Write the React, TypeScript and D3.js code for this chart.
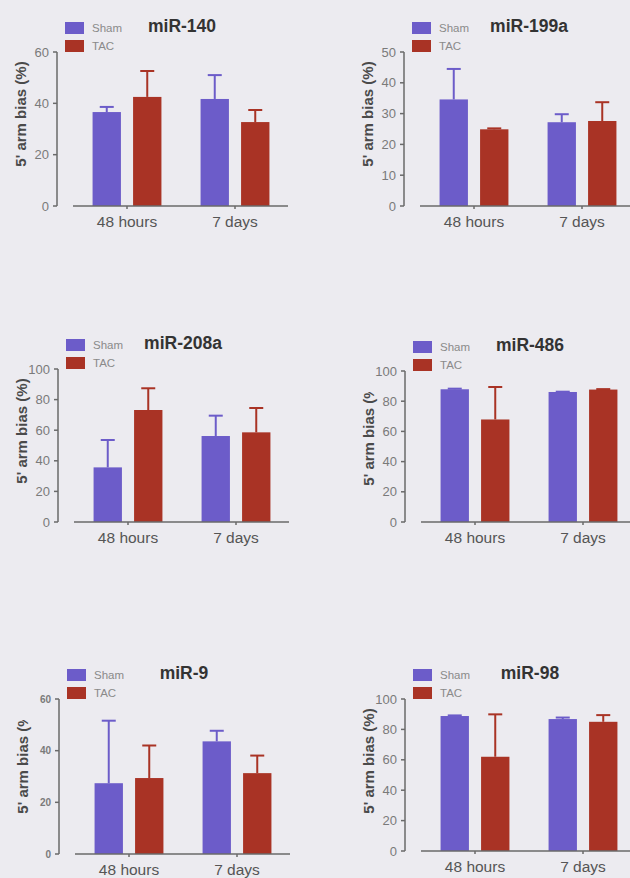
import * as d3 from 'd3';
import React from 'react';

// data
const categories = ['48 hours', '7 days'];
const groups = ['Sham', 'TAC'];
const titles = ['miR-140', 'miR-199a', 'miR-208a', 'miR-486', 'miR-9', 'miR-98'];
const yMaxes = [60, 50, 100, 100, 60, 100];
const yTickSteps = [20, 10, 20, 20, 20, 20];
const shamMeans = [[36.6, 41.7], [34.6, 27.2], [35.7, 56.2], [87.9, 86.1], [27.4, 43.6], [88.8, 86.8]];
const shamErr = [[2.0, 9.3], [9.9, 2.6], [17.9, 13.3], [0.4, 0.2], [24.2, 4.1], [0.4, 1.0]];
const tacMeans = [[42.5, 32.7], [24.9, 27.6], [73.2, 58.6], [67.9, 87.7], [29.4, 31.3], [62.0, 85.0]];
const tacErr = [[10.1, 4.7], [0.3, 6.1], [14.2, 15.9], [21.5, 0.3], [12.6, 6.8], [27.9, 4.4]];
const yLabel = "5' arm bias (%)";

// layout of the six panels
const axisXs = [57, 404, 58, 405, 59, 405];
const tops = [52, 52, 369, 371, 699, 699];
const bottoms = [206, 206, 522, 522, 854, 851];
const clippedLabel = [false, false, false, true, true, false];

const colors = { Sham: '#6c5cc9', TAC: '#a93325' };
const font = 'Liberation Sans, Arial, sans-serif';

const Panel = ({ i }) => {
    const ax = axisXs[i];
    const top = tops[i];
    const bottom = bottoms[i];
    const small = i === 4;

    const y = d3.scaleLinear().domain([0, yMaxes[i]]).range([bottom, top]);
    const x = d3.scaleBand().domain(categories).range([ax + 16, ax + 232])
        .paddingInner(0.25).paddingOuter(0.125);
    const xs = d3.scaleBand().domain(groups).range([0, x.bandwidth()])
        .paddingInner(0.3).paddingOuter(0.15);
    const ticks = d3.range(0, yMaxes[i] + 0.001, yTickSteps[i]);

    const rows = [];
    categories.forEach((c, ci) => {
        groups.forEach(g => {
            const mean = g === 'Sham' ? shamMeans[i][ci] : tacMeans[i][ci];
            const err = g === 'Sham' ? shamErr[i][ci] : tacErr[i][ci];
            rows.push({ c, g, mean, err });
        });
    });

    const clipId = `lab-clip-${i}`;

    return (
        <g>
            {clippedLabel[i] && (
                <clipPath id={clipId}>
                    <rect x={ax - 60} y={top + 21} width={40} height={200} />
                </clipPath>
            )}
            {/* title */}
            <text x={ax + 125} y={top - 20} textAnchor="middle" fontFamily={font}
                fontWeight="bold" fontSize={17.5} fill="#333">{titles[i]}</text>

            {/* legend */}
            {groups.map((g, gi) => (
                <g key={g}>
                    <rect x={ax + 8} y={top - 30 + gi * 18} width={19} height={12} fill={colors[g]} />
                    <text x={ax + 35} y={top - 20 + gi * 18} fontFamily={font} fontSize={11.5}
                        fill="#8a8a8a">{g}</text>
                </g>
            ))}

            {/* bars + error bars */}
            {rows.map(d => {
                const bx = x(d.c) + xs(d.g);
                const cx = bx + xs.bandwidth() / 2;
                return (
                    <g key={d.c + d.g}>
                        <rect x={bx} y={y(d.mean)} width={xs.bandwidth()} height={bottom - y(d.mean)}
                            fill={colors[d.g]} />
                        <line x1={cx} x2={cx} y1={y(d.mean)} y2={y(d.mean + d.err)}
                            stroke={colors[d.g]} strokeWidth={2} />
                        <line x1={cx - 7} x2={cx + 7} y1={y(d.mean + d.err)} y2={y(d.mean + d.err)}
                            stroke={colors[d.g]} strokeWidth={2} />
                    </g>
                );
            })}

            {/* y axis */}
            <line x1={ax} x2={ax} y1={top} y2={bottom} stroke="#6a6a6a" strokeWidth={1.5} />
            {ticks.map(t => (
                <g key={t}>
                    <line x1={ax - 4} x2={ax} y1={y(t)} y2={y(t)} stroke="#6a6a6a" strokeWidth={1.5} />
                    <text x={ax - 8} y={y(t)} dy="0.35em" textAnchor="end" fontFamily={font}
                        fontSize={small ? 10 : 13} fontWeight={small ? 'bold' : 'normal'}
                        fill="#7a7a7a">{t}</text>
                </g>
            ))}
            <g clipPath={clippedLabel[i] ? `url(#${clipId})` : undefined}>
                <text transform={`translate(${ax - 31},${top + 62}) rotate(-90)`} textAnchor="middle"
                    fontFamily={font} fontWeight="bold" fontSize={15} fill="#4a4a4a">{yLabel}</text>
            </g>

            {/* x axis */}
            <line x1={ax + 16} x2={ax + 231} y1={bottom} y2={bottom} stroke="#6a6a6a" strokeWidth={1.5} />
            {categories.map(c => {
                const cx = x(c) + x.bandwidth() / 2;
                return (
                    <g key={c}>
                        <line x1={cx} x2={cx} y1={bottom} y2={bottom + 3} stroke="#6a6a6a" strokeWidth={1.5} />
                        <text x={cx} y={bottom + 21} textAnchor="middle" fontFamily={font} fontSize={15.5}
                            fill="#555">{c}</text>
                    </g>
                );
            })}
        </g>
    );
};

const App = () => (
    <div style={{ position: 'absolute', left: 0, top: 0 }}>
        <svg width={630} height={878} style={{ display: 'block', background: '#ecebf0' }}>
            {titles.map((t, i) => <Panel key={t} i={i} />)}
        </svg>
    </div>
);

export default App;
